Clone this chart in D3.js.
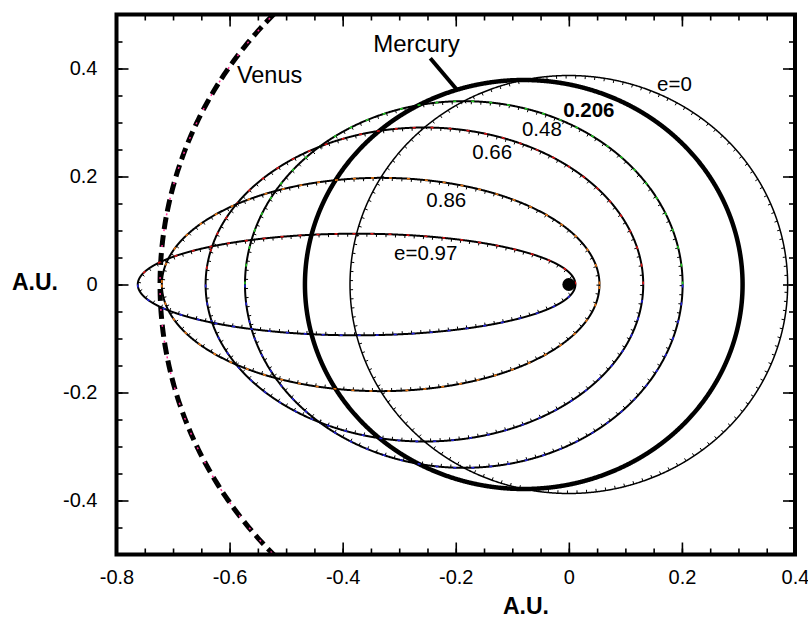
<!DOCTYPE html>
<html>
<head>
<meta charset="utf-8">
<script src="https://cdn.jsdelivr.net/npm/d3@7"></script>
<style>
  html, body { margin: 0; padding: 0; background: #fff; }
  svg { display: block; font-family: "Liberation Sans", Arial, Helvetica, sans-serif; }
</style>
</head>
<body>
<svg id="chart" width="808" height="618"></svg>
<script>
// ---------------- data ----------------
const semiMajorAU = 0.387;                       // Mercury semi-major axis (A.U.)
const orbitEccentricities = [0, 0.206, 0.48, 0.66, 0.86, 0.97];
const orbitLabels = ["e=0", "0.206", "0.48", "0.66", "0.86", "e=0.97"];
const venusRadiusAU = 0.723;
const sunPosition = [0, 0];
const xTickValues = [-0.8, -0.6, -0.4, -0.2, 0, 0.2, 0.4];
const xTickLabels = ["-0.8", "-0.6", "-0.4", "-0.2", "0", "0.2", "0.4"];
const yTickValues = [-0.4, -0.2, 0, 0.2, 0.4];
const yTickLabels = ["-0.4", "-0.2", "0", "0.2", "0.4"];
const axisTitle = "A.U.";

// ---------------- layout / style ----------------
const labelAnchors = [[0.156, 0.358], [-0.010, 0.310], [-0.083, 0.275], [-0.171, 0.232], [-0.252, 0.1435], [-0.309, 0.045]];
const orbitStyle = [
  { w: 1.5, hatch: true,  top: null,      bottom: null },
  { w: 4.5, hatch: false, top: null,      bottom: null },
  { w: 2.0, hatch: true,  top: "#22cc22", bottom: "#2222dd" },
  { w: 2.0, hatch: true,  top: "#dd1111", bottom: "#2222dd" },
  { w: 2.0, hatch: true,  top: "#ee7711", bottom: "#ee7711" },
  { w: 2.0, hatch: true,  top: "#dd1111", bottom: "#2222dd" }
];

const svg = d3.select("#chart");
const x = d3.scaleLinear().domain([-0.8, 0.4]).range([116.5, 795]);
const y = d3.scaleLinear().domain([-0.5, 0.5]).range([554.5, 14.5]);
const fontFam = '"Liberation Sans", Arial, Helvetica, sans-serif';

svg.append("defs").append("clipPath").attr("id", "plotclip")
  .append("rect")
  .attr("x", x(-0.8)).attr("y", y(0.5))
  .attr("width", x(0.4) - x(-0.8)).attr("height", y(-0.5) - y(0.5));

const plot = svg.append("g").attr("clip-path", "url(#plotclip)");
const line = d3.line().x(d => x(d[0])).y(d => y(d[1]));

function ellipsePoints(e, a, n) {
  const b = a * Math.sqrt(1 - e * e), cx = -a * e;
  return d3.range(n + 1).map(i => {
    const t = 2 * Math.PI * i / n;
    return [cx + a * Math.cos(t), b * Math.sin(t)];
  });
}

function hatchPath(pts, center, spacing, len) {
  const P = pts.map(p => [x(p[0]), y(p[1])]);
  const C = [x(center[0]), y(center[1])];
  let acc = 0, d = "";
  for (let i = 1; i < P.length - 1; i++) {
    acc += Math.hypot(P[i][0] - P[i - 1][0], P[i][1] - P[i - 1][1]);
    if (acc >= spacing) {
      acc = 0;
      let tx = P[i + 1][0] - P[i - 1][0], ty = P[i + 1][1] - P[i - 1][1];
      const m = Math.hypot(tx, ty) || 1;
      let nx = -ty / m, ny = tx / m;
      if (nx * (C[0] - P[i][0]) + ny * (C[1] - P[i][1]) < 0) { nx = -nx; ny = -ny; }
      d += `M${P[i][0].toFixed(2)},${P[i][1].toFixed(2)}l${(nx * len).toFixed(2)},${(ny * len).toFixed(2)}`;
    }
  }
  return d;
}

// Venus orbit (dashed)
const venusPts = d3.range(721).map(i => {
  const t = 2 * Math.PI * i / 720;
  return [venusRadiusAU * Math.cos(t), venusRadiusAU * Math.sin(t)];
});
plot.append("path").attr("d", line(venusPts))
  .attr("fill", "none").attr("stroke", "#000")
  .attr("stroke-width", 5).attr("stroke-dasharray", "12 6");
plot.append("path").attr("d", line(venusPts))
  .attr("fill", "none").attr("stroke", "#ff3399")
  .attr("stroke-width", 1.5).attr("stroke-dasharray", "2 14");

// orbits of varying eccentricity
orbitEccentricities.forEach((e, k) => {
  const st = orbitStyle[k];
  const pts = ellipsePoints(e, semiMajorAU, 2000);
  const center = [-semiMajorAU * e, 0];
  plot.append("path").attr("d", line(pts))
    .attr("fill", "none").attr("stroke", "#000")
    .attr("stroke-width", st.w);
  if (st.hatch) {
    plot.append("path").attr("d", hatchPath(pts, center, 9, 3))
      .attr("fill", "none").attr("stroke", "#000").attr("stroke-width", 1);
  }
  if (st.top) {
    const half = pts.slice(0, 1001);
    plot.append("path").attr("d", line(half))
      .attr("fill", "none").attr("stroke", st.top)
      .attr("stroke-width", 1.6).attr("stroke-dasharray", "3 15");
  }
  if (st.bottom) {
    const half = pts.slice(1000);
    plot.append("path").attr("d", line(half))
      .attr("fill", "none").attr("stroke", st.bottom)
      .attr("stroke-width", 1.6).attr("stroke-dasharray", "3 15");
  }
});

// Sun
plot.append("circle")
  .attr("cx", x(sunPosition[0])).attr("cy", y(sunPosition[1]))
  .attr("r", 6.5).attr("fill", "#000");

// orbit labels
orbitLabels.forEach((t, k) => {
  svg.append("text")
    .attr("x", x(labelAnchors[k][0])).attr("y", y(labelAnchors[k][1]))
    .attr("font-size", 20.5)
    .attr("font-weight", k === 1 ? "bold" : "normal")
    .attr("fill", "#000")
    .text(t);
});

// Venus & Mercury labels
svg.append("text").attr("x", x(-0.587)).attr("y", y(0.373))
  .attr("font-size", 23.5).text("Venus");
svg.append("text").attr("x", x(-0.346)).attr("y", y(0.430))
  .attr("font-size", 24).text("Mercury");
svg.append("line")
  .attr("x1", x(-0.245)).attr("y1", y(0.419))
  .attr("x2", x(-0.199)).attr("y2", y(0.362))
  .attr("stroke", "#000").attr("stroke-width", 4);

// ---------------- axes ----------------
const minorX = d3.range(-0.8, 0.4001, 0.05).map(v => +v.toFixed(2));
const minorY = d3.range(-0.5, 0.5001, 0.05).map(v => +v.toFixed(2));

function styleAxis(g) {
  g.select(".domain").remove();
  g.selectAll(".tick line").attr("stroke", "#000").attr("stroke-width", 1.6);
  g.selectAll(".tick text").attr("font-family", fontFam).attr("font-size", 20).attr("fill", "#000");
}

// bottom
svg.append("g").attr("transform", `translate(0,${y(-0.5)})`)
  .call(d3.axisBottom(x).tickValues(minorX).tickSize(-6).tickFormat("")).call(styleAxis);
svg.append("g").attr("transform", `translate(0,${y(-0.5)})`)
  .call(d3.axisBottom(x).tickValues(xTickValues).tickSize(-12).tickPadding(15)
    .tickFormat((d, i) => xTickLabels[i])).call(styleAxis);
// top
svg.append("g").attr("transform", `translate(0,${y(0.5)})`)
  .call(d3.axisTop(x).tickValues(minorX).tickSize(-6).tickFormat("")).call(styleAxis);
svg.append("g").attr("transform", `translate(0,${y(0.5)})`)
  .call(d3.axisTop(x).tickValues(xTickValues).tickSize(-12).tickFormat("")).call(styleAxis);
// left
svg.append("g").attr("transform", `translate(${x(-0.8)},0)`)
  .call(d3.axisLeft(y).tickValues(minorY).tickSize(-6).tickFormat("")).call(styleAxis);
svg.append("g").attr("transform", `translate(${x(-0.8)},0)`)
  .call(d3.axisLeft(y).tickValues(yTickValues).tickSize(-12).tickPadding(19)
    .tickFormat((d, i) => yTickLabels[i])).call(styleAxis);
// right
svg.append("g").attr("transform", `translate(${x(0.4)},0)`)
  .call(d3.axisRight(y).tickValues(minorY).tickSize(-6).tickFormat("")).call(styleAxis);
svg.append("g").attr("transform", `translate(${x(0.4)},0)`)
  .call(d3.axisRight(y).tickValues(yTickValues).tickSize(-12).tickFormat("")).call(styleAxis);

// frame
svg.append("rect")
  .attr("x", x(-0.8)).attr("y", y(0.5))
  .attr("width", x(0.4) - x(-0.8)).attr("height", y(-0.5) - y(0.5))
  .attr("fill", "none").attr("stroke", "#000").attr("stroke-width", 4);

// axis titles
svg.append("text").attr("x", 526).attr("y", 614)
  .attr("text-anchor", "middle").attr("font-size", 23).attr("font-weight", "bold")
  .text(axisTitle);
svg.append("text").attr("x", 12).attr("y", 290)
  .attr("font-size", 23).attr("font-weight", "bold")
  .text(axisTitle);
</script>
</body>
</html>
